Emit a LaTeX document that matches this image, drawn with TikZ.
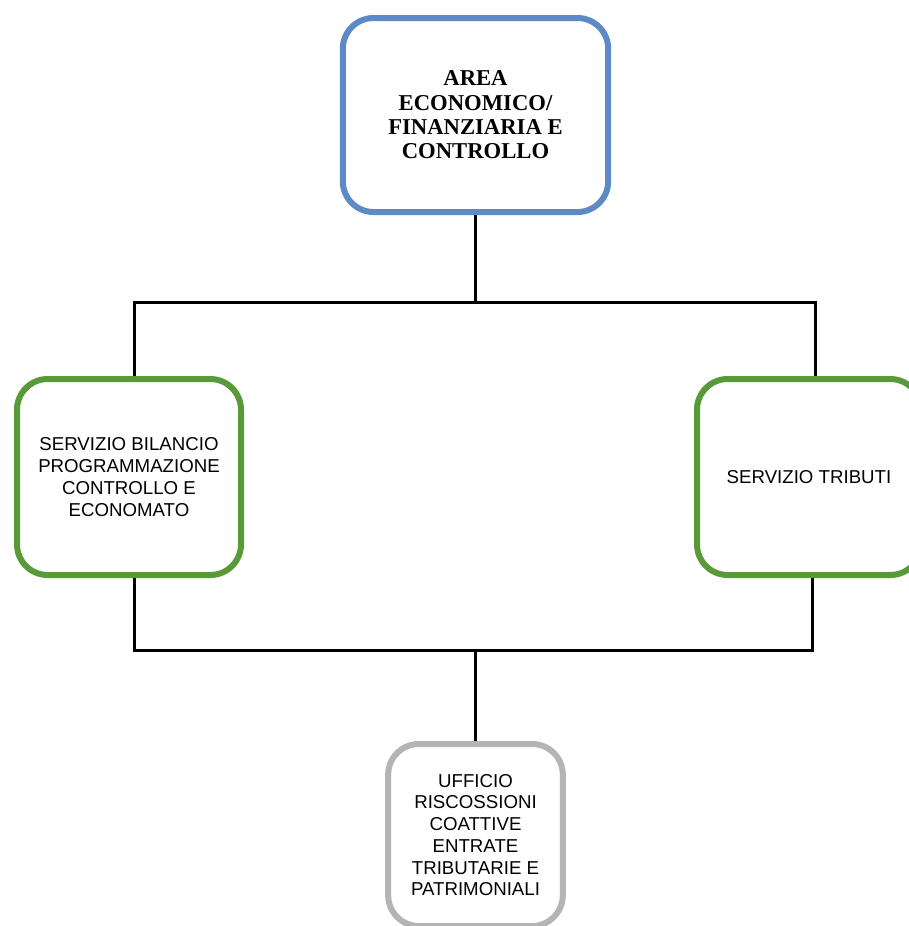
\documentclass[tikz,border=0pt]{standalone}
\usepackage{fontspec}
\setmainfont{Liberation Serif}
\setsansfont{Liberation Sans}
\definecolor{areablue}{RGB}{93,137,198}
\definecolor{servgreen}{RGB}{88,154,56}
\definecolor{uffgray}{RGB}{180,180,180}
\begin{document}
\begin{tikzpicture}
[x=.75pt, y=-.75pt,
 nodes={draw, line width=4.5pt, fill=white, rounded corners=23pt, align=center,
        font=\sffamily\fontsize{14}{16.3}\selectfont},
 servbox/.style={draw=servgreen, minimum width=168pt, minimum height=147pt},
 line width=2.25pt]
\useasboundingbox (0,0) rectangle (909,926);

\node (AEF) at (475.5,115) [draw=areablue, minimum width=199pt, minimum height=145.5pt,
  font=\bfseries\fontsize{17}{18.2}\selectfont] {AREA\\ECONOMICO/\\FINANZIARIA E\\CONTROLLO};
\node (SBP) at (129,477) [servbox] {SERVIZIO BILANCIO\\PROGRAMMAZIONE\\CONTROLLO E\\ECONOMATO};
\node (ST) at (809,477) [servbox] {SERVIZIO TRIBUTI};
\node (URC) at (475.5,835) [draw=uffgray, minimum width=131pt, minimum height=136.5pt]
  {UFFICIO\\RISCOSSIONI\\COATTIVE\\ENTRATE\\TRIBUTARIE E\\PATRIMONIALI};

\coordinate (TL) at (134,302);
\coordinate (TR) at (815,302);
\coordinate (BL) at (134,650);
\coordinate (BR) at (812,650);
\draw (AEF.south) -- (AEF.south |- TL);
\draw (SBP.north -| TL) -- (TL) -- (TR) -- (ST.north -| TR);
\draw (SBP.south -| BL) -- (BL) -- (BR) -- (ST.south -| BR);
\draw (URC.north) -- (URC.north |- BL);
\end{tikzpicture}
\end{document}
